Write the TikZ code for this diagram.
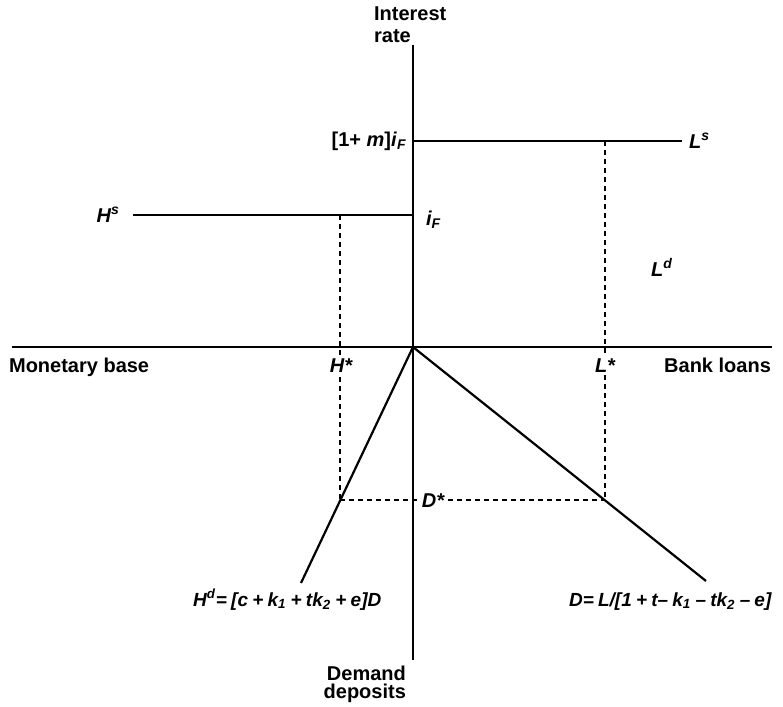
\documentclass[tikz,border=0pt]{standalone}
\usepackage{fontspec}
\setmainfont{Liberation Sans}
\newcommand{\sps}{\hspace{0.22em}}
\begin{document}
\begin{tikzpicture}[x=0.5pt,y=-0.5pt,line width=1.1pt,
  lbl/.style={font=\fontsize{10}{12}\selectfont\bfseries,inner sep=0pt},
  mlbl/.style={font=\fontsize{10}{12}\selectfont\bfseries\itshape,inner sep=0pt},
  guide/.style={line width=1pt,dash pattern=on 2.5pt off 2pt}]
\useasboundingbox (0,0) rectangle (783,707);
% coordinates
\coordinate (O) at (413,347);
\coordinate (Vtop) at (413,45);
\coordinate (Vbot) at (413,660);
\coordinate (Hl) at (12,347);
\coordinate (Hr) at (772,347);
\coordinate (LsA) at (413,141);
\coordinate (LsB) at (682,141);
\coordinate (HsA) at (133,215);
\coordinate (HsB) at (413,215);
\coordinate (HsTop) at (340,215);
\coordinate (LsTop) at (605,141);
\coordinate (HD) at (340,500);
\coordinate (LD) at (605,500);
\coordinate (HdEnd) at (301,583);
\coordinate (DEnd) at (706,581);
% axes
\draw (Vtop) -- (Vbot);
\draw (Hl) -- (Hr);
% supply curves
\draw (LsA) -- (LsB);
\draw (HsA) -- (HsB);
% demand lines
\draw (O) -- (HdEnd);
\draw (O) -- (DEnd);
% guides
\draw[guide] (HsTop) -- (HD);
\draw[guide] (LsTop) -- (LD);
\draw[guide] (HD) -- (LD);
% labels
\node[lbl,anchor=base west] (int1) at (373,20) {Interest};
\node[lbl,anchor=base west] (int2) at (373,42) {rate};
\node[lbl,anchor=base east] (dem1) at (407,680) {Demand};
\node[lbl,anchor=base east] (dem2) at (407,698) {deposits};
\node[lbl,anchor=base west] (mb) at (8,372) {Monetary base};
\node[lbl,anchor=base east] (bl) at (772,372) {Bank loans};
\node[mlbl,anchor=base,fill=white,inner sep=1.5pt] (hstar) at (341,372) {H*};
\node[mlbl,anchor=base,fill=white,inner sep=1.5pt] (lstar) at (605,372) {L*};
\node[mlbl,anchor=base west] (ls) at (688,148) {L\textsuperscript{s}};
\node[mlbl,anchor=base east] (hs) at (121,222) {H\textsuperscript{s}};
\node[mlbl,anchor=base west] (ld) at (650,276) {L\textsuperscript{d}};
\node[mlbl,anchor=base west] (if) at (425,225) {i\textsubscript{F}};
\node[lbl,anchor=base east] (mif) at (408,146) {[1+ \textit{m}]\textit{i}\textsubscript{\textit{F}}};
\node[mlbl,anchor=base,fill=white,inner xsep=1.5pt] (dstar) at (433,507) {D*};
\node[mlbl,anchor=base west,font=\fontsize{9.5}{12}\selectfont\bfseries\itshape] (hdf) at (192,606) {H\textsuperscript{d}=\sps[c\sps+\sps k\textsubscript{1}\sps+\sps tk\textsubscript{2}\sps+\sps e]D};
\node[mlbl,anchor=base west,font=\fontsize{9.5}{12}\selectfont\bfseries\itshape] (df) at (568,606) {D=\sps L/[1\sps+\sps t–\sps k\textsubscript{1}\sps–\sps tk\textsubscript{2}\sps–\sps e]};
\end{tikzpicture}
\end{document}
